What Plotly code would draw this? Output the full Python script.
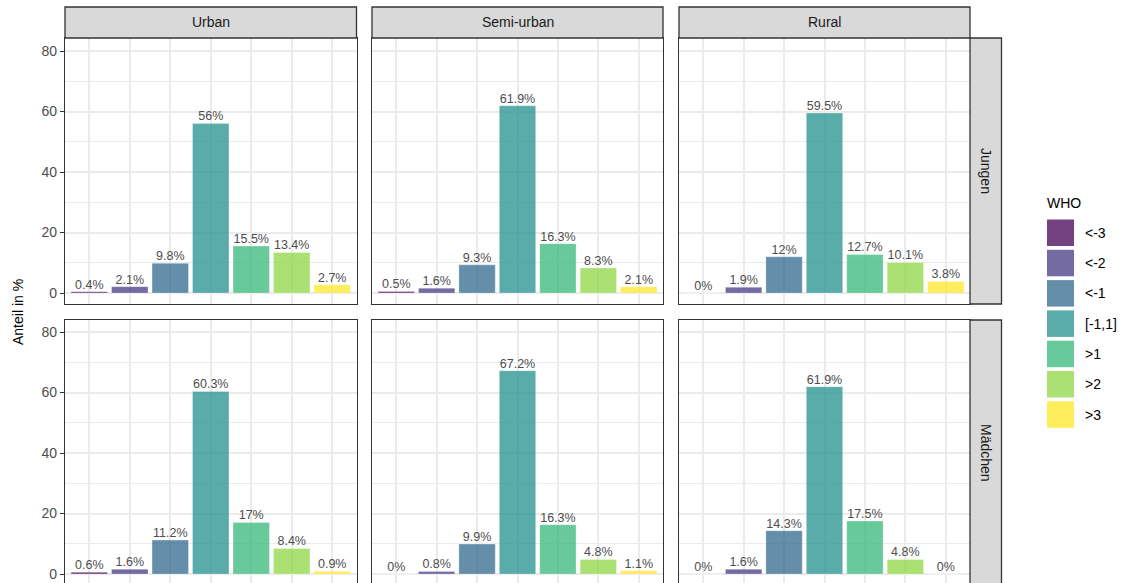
import plotly.graph_objects as go

# ---------------- data ----------------
categories = ["<-3", "<-2", "<-1", "[-1,1]", ">1", ">2", ">3"]
areas = ["Urban", "Semi-urban", "Rural"]
sexes = ["Jungen", "Mädchen"]

jungen_urban = [0.4, 2.1, 9.8, 56, 15.5, 13.4, 2.7]
jungen_semi = [0.5, 1.6, 9.3, 61.9, 16.3, 8.3, 2.1]
jungen_rural = [0, 1.9, 12, 59.5, 12.7, 10.1, 3.8]
maedchen_urban = [0.6, 1.6, 11.2, 60.3, 17, 8.4, 0.9]
maedchen_semi = [0, 0.8, 9.9, 67.2, 16.3, 4.8, 1.1]
maedchen_rural = [0, 1.6, 14.3, 61.9, 17.5, 4.8, 0]

values = [
    [jungen_urban, jungen_semi, jungen_rural],
    [maedchen_urban, maedchen_semi, maedchen_rural],
]

y_ticks = [0, 20, 40, 60, 80]
y_minor = [10, 30, 50, 70]

colors = ["rgba(68,1,84,0.75)", "rgba(68,58,131,0.75)", "rgba(49,104,142,0.75)",
          "rgba(33,144,140,0.75)", "rgba(53,183,121,0.75)", "rgba(143,215,68,0.75)",
          "rgba(253,231,37,0.75)"]

# ---------------- layout geometry (pixels) ----------------
W, H = 1126, 583
col_px = [(65, 356.5), (372, 663), (679, 970)]
row_px = [(38, 304), (320, 583)]
zero_px = [293, 574]
scale = 3.025  # px per unit

def px_x(p):
    return p / W

def px_y(p):
    return 1 - p / H

FONT = "Liberation Sans, Arial, sans-serif"
GRID = "#EBEBEB"
DARK = "#333333"

fig = go.Figure()
layout = {}
shapes = []
annotations = []

for r in range(2):
    for c in range(3):
        idx = r * 3 + c + 1
        sfx = "" if idx == 1 else str(idx)
        xa, ya = "x" + sfx, "y" + sfx
        vals = values[r][c]
        fig.add_trace(go.Bar(
            x=categories, y=vals, xaxis=xa, yaxis=ya,
            marker=dict(color=colors, line=dict(color="rgba(255,255,255,0.5)", width=0.6)),
            width=0.9, showlegend=False, hoverinfo="skip"))
        fig.add_trace(go.Scatter(
            x=categories, y=vals, xaxis=xa, yaxis=ya, mode="text",
            text=[f"{v:g}%" for v in vals], textposition="top center",
            textfont=dict(family=FONT, size=12.5, color="#4D4D4D"),
            showlegend=False, hoverinfo="skip", cliponaxis=False))
        top, bot = row_px[r]
        z = zero_px[r]
        layout["xaxis" + sfx] = dict(
            domain=[px_x(col_px[c][0]), px_x(col_px[c][1])], anchor=ya,
            type="category", categoryorder="array", categoryarray=categories,
            range=[-0.6, 6.6], showgrid=True, gridcolor=GRID, gridwidth=1.5,
            showticklabels=False, ticks="", zeroline=False,
            showline=True, mirror=True, linecolor=DARK, linewidth=1.3)
        layout["yaxis" + sfx] = dict(
            domain=[px_y(bot), px_y(top)], anchor=xa,
            range=[(z - bot) / scale, (z - top) / scale],
            tickvals=y_ticks, showgrid=True, gridcolor=GRID, gridwidth=1.5,
            minor=dict(tickvals=y_minor, showgrid=True, gridcolor=GRID, gridwidth=0.9),
            zeroline=False, showline=True, mirror=True, linecolor=DARK, linewidth=1.3,
            showticklabels=(c == 0), ticks="outside" if c == 0 else "",
            ticklen=4, tickcolor=DARK, tickwidth=1.3,
            tickfont=dict(family=FONT, size=14, color="#4D4D4D"))

# top strips
for c, name in enumerate(areas):
    x0, x1 = col_px[c]
    shapes.append(dict(type="rect", xref="paper", yref="paper",
                       x0=px_x(x0), x1=px_x(x1), y0=px_y(38), y1=px_y(7),
                       fillcolor="#D9D9D9", line=dict(color=DARK, width=1.3)))
    annotations.append(dict(text=name, xref="paper", yref="paper",
                            x=px_x((x0 + x1) / 2), y=px_y(22.5),
                            xanchor="center", yanchor="middle", showarrow=False,
                            font=dict(family=FONT, size=14, color="#1A1A1A")))

# right strips
row_full = [(38, 304), (320, 586)]
for r, name in enumerate(sexes):
    y0, y1 = row_full[r]
    shapes.append(dict(type="rect", xref="paper", yref="paper",
                       x0=px_x(970), x1=px_x(1001.5), y0=px_y(y1), y1=px_y(y0),
                       fillcolor="#D9D9D9", line=dict(color=DARK, width=1.3)))
    annotations.append(dict(text=name, xref="paper", yref="paper",
                            x=px_x(986), y=px_y((y0 + y1) / 2),
                            xanchor="center", yanchor="middle", showarrow=False,
                            textangle=90,
                            font=dict(family=FONT, size=14, color="#1A1A1A")))

# y axis title
annotations.append(dict(text="Anteil in %", xref="paper", yref="paper",
                        x=px_x(18), y=px_y(312), xanchor="center", yanchor="middle",
                        showarrow=False, textangle=-90,
                        font=dict(family=FONT, size=14, color="black")))

# legend (manual, ggplot-style)
annotations.append(dict(text="WHO", xref="paper", yref="paper",
                        x=px_x(1045), y=px_y(203), xanchor="left", yanchor="middle",
                        showarrow=False,
                        font=dict(family=FONT, size=14, color="black")))
for i, (cat, col) in enumerate(zip(categories, colors)):
    ktop = 219.5 + 30.3 * i
    shapes.append(dict(type="rect", xref="paper", yref="paper",
                       x0=px_x(1047), x1=px_x(1074), y0=px_y(ktop + 26.5), y1=px_y(ktop),
                       fillcolor=col, line=dict(width=0)))
    annotations.append(dict(text=cat, xref="paper", yref="paper",
                            x=px_x(1083), y=px_y(ktop + 13.3), xanchor="left",
                            yanchor="middle", showarrow=False,
                            font=dict(family=FONT, size=14, color="black")))

fig.update_layout(
    width=W, height=H, margin=dict(l=0, r=0, t=0, b=0),
    paper_bgcolor="white", plot_bgcolor="white",
    shapes=shapes, annotations=annotations, bargap=0.1,
    **layout)

fig.write_html("out.html",
               config={"displayModeBar": False},
               post_script="document.body.style.margin='0px';"
                           "document.body.style.padding='0px';"
                           "document.body.style.overflow='hidden';")
